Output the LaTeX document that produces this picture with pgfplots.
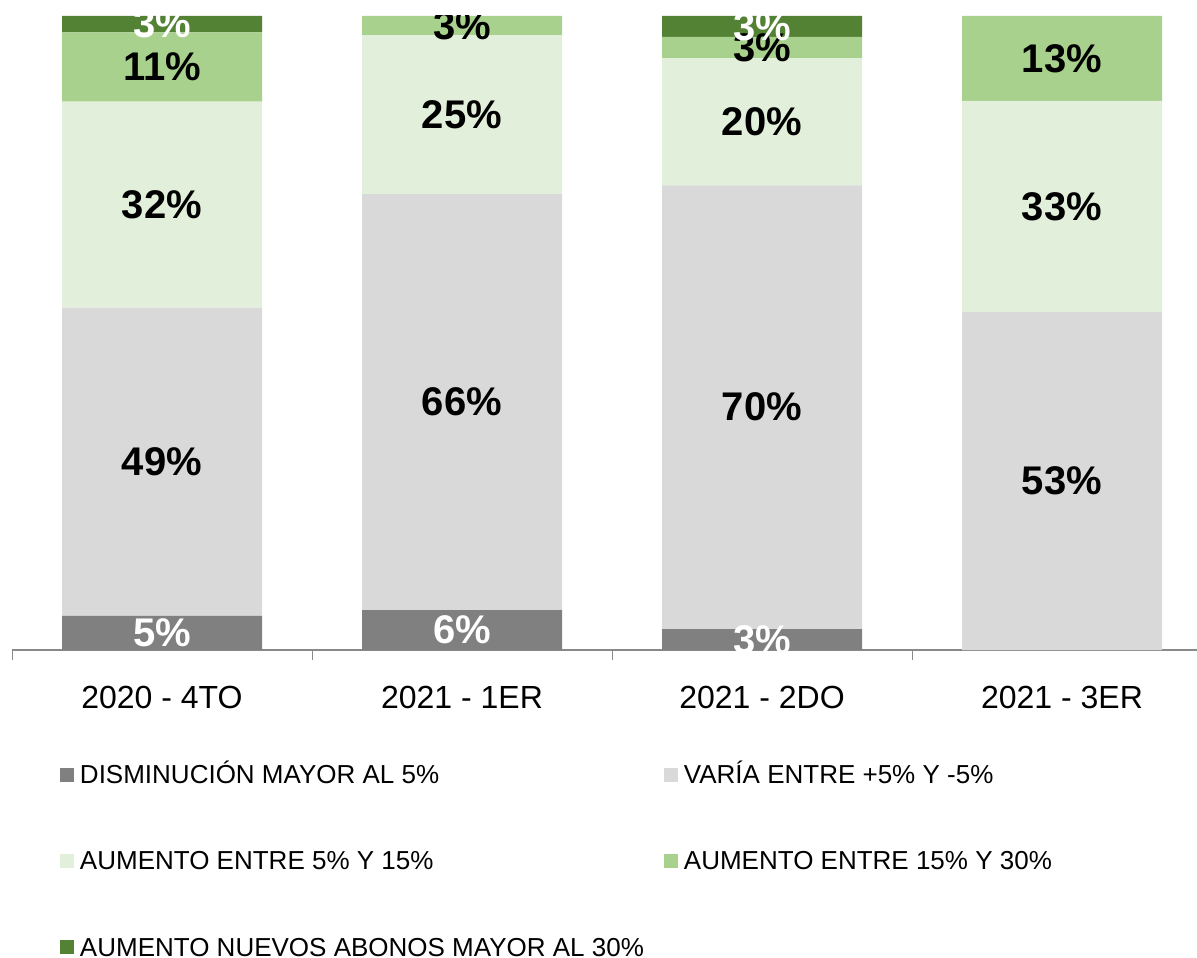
\documentclass[border=0pt]{standalone}
\usepackage{fontspec}
\setmainfont{Liberation Sans}
\usepackage{pgfplots}
\pgfplotsset{compat=1.18}
\definecolor{cA}{HTML}{808080}
\definecolor{cB}{HTML}{D9D9D9}
\definecolor{cC}{HTML}{E2EFDA}
\definecolor{cD}{HTML}{A9D18E}
\definecolor{cE}{HTML}{548235}
\definecolor{axgray}{HTML}{898989}
\pgfplotsset{
  sq legend/.style={legend image code/.code={\fill[##1] (0pt,-2.3pt) rectangle (7pt,4.7pt);}},
}
\begin{document}
\begin{tikzpicture}
\begin{axis}[
  at={(0pt,0pt)}, anchor=south west,
  scale only axis, width=600pt, height=317pt,
  xmin=-0.5, xmax=3.5, ymin=0, ymax=100,
  ybar stacked, bar width=100pt,
  axis x line*=bottom, axis y line=none,
  x axis line style={draw=axgray, line width=1pt, -},
  xtick={0,1,2,3},
  xticklabels={2020 - 4TO, 2021 - 1ER, 2021 - 2DO, 2021 - 3ER},
  xticklabel style={font=\fontsize{16}{19}\selectfont, yshift=-14.5pt},
  minor xtick={-0.5,0.5,1.5,2.5,3.5},
  minor tick style={draw=axgray, line width=0.5pt},
  minor tick length=5pt, major tick length=0pt,
  xtick align=outside,
  ytick=\empty,
  legend style={at={(0.04,-0.1798)}, anchor=north west, draw=none, inner sep=0pt, outer sep=0pt,
    font=\fontsize{13}{15}\selectfont, row sep=30pt,
    nodes={inner sep=0pt, text height=10pt, text depth=3pt},
    /tikz/every odd column/.append style={column sep=3pt},
    /tikz/every even column/.append style={column sep=10pt}},
  legend columns=2,
  legend cell align=left,
]
\addplot[fill=cA, draw=none, sq legend] coordinates {(0,5.4) (1,6.3) (2,3.3) (3,0)};
\addlegendentry{DISMINUCIÓN MAYOR AL 5\%}
\addplot[fill=cB, draw=none, sq legend] coordinates {(0,48.6) (1,65.6) (2,70.0) (3,53.3)};
\addlegendentry{VARÍA ENTRE +5\% Y -5\%}
\addplot[fill=cC, draw=none, sq legend] coordinates {(0,32.5) (1,25.1) (2,20.0) (3,33.3)};
\addlegendentry{AUMENTO ENTRE 5\% Y 15\%}
\addplot[fill=cD, draw=none, sq legend] coordinates {(0,10.9) (1,3.0) (2,3.4) (3,13.4)};
\addlegendentry{AUMENTO ENTRE 15\% Y 30\%}
\addplot[fill=cE, draw=none, sq legend] coordinates {(0,2.6) (1,0) (2,3.3) (3,0)};
\addlegendentry{AUMENTO NUEVOS ABONOS MAYOR AL 30\%}
\end{axis}
\begin{scope}
\clip (0pt,0pt) rectangle (600pt,317pt);
\begin{axis}[
  at={(0pt,0pt)}, anchor=south west,
  scale only axis, width=600pt, height=317pt,
  xmin=-0.5, xmax=3.5, ymin=0, ymax=100,
  hide axis,
  nodes near coords={\pgfplotspointmeta\%}, point meta=explicit symbolic,
  every node near coord/.append style={anchor=center, font=\bfseries\fontsize{20}{24}\selectfont, inner sep=0pt},
]
\addplot[only marks, mark=none, every node near coord/.append style={text=black}] coordinates {
  (0,29.7)[49] (0,70.25)[32] (0,91.95)[11]
  (1,39.1)[66] (1,84.45)[25] (1,98.5)[3]
  (2,38.3)[70] (2,83.3)[20] (2,95.0)[3]
  (3,26.65)[53] (3,69.95)[33] (3,93.3)[13]};
\addplot[only marks, mark=none, every node near coord/.append style={text=white}] coordinates {
  (0,2.7)[5] (0,98.7)[3] (1,3.15)[6] (2,1.65)[3] (2,98.35)[3]};
\end{axis}
\end{scope}
\pgfresetboundingbox
\useasboundingbox (-6pt,-153.5pt) rectangle (592.5pt,325pt);
\end{tikzpicture}
\end{document}
